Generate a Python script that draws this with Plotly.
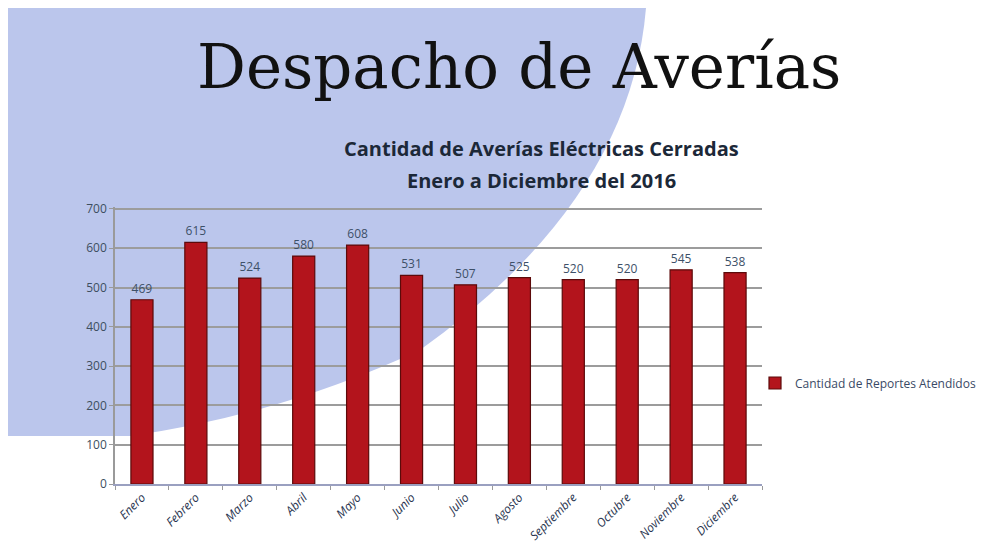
import plotly.graph_objects as go

meses = ["Enero", "Febrero", "Marzo", "Abril", "Mayo", "Junio", "Julio",
         "Agosto", "Septiembre", "Octubre", "Noviembre", "Diciembre"]
reportes = [469, 615, 524, 580, 608, 531, 507, 525, 520, 520, 545, 538]
y_ticks = [0, 100, 200, 300, 400, 500, 600, 700]
y_max = 705
serie = "Cantidad de Reportes Atendidos"

OFF = 8  # default page body margin
W, H = 995 - 2 * OFF, 558 - 2 * OFF
# plot area in window pixels
L, R, T, B = 115, 762, 207, 484


def px(x, y):
    return (x - L) / (R - L), (B - y) / (B - T)


def pt(x, y):
    a, b = px(x, y)
    return f"{a:.4f},{b:.4f}"


bg_path = (f"M {pt(8, 8)} L {pt(646, 8)} "
           f"Q {pt(630, 200)} {pt(420, 350)} "
           f"Q {pt(280, 415)} {pt(130, 436)} "
           f"L {pt(8, 436)} Z")

fig = go.Figure()
fig.add_trace(go.Bar(
    x=meses, y=reportes, name=serie,
    marker=dict(color="#b3141c", line=dict(color="#5c0a0a", width=1.2)),
    text=reportes,
    textposition="outside", cliponaxis=False,
    textfont=dict(family="Open Sans", size=12, color="#3d5068"),
    width=0.41, showlegend=True,
))

fig.update_layout(
    width=W, height=H,
    margin=dict(l=L - OFF, r=(995 - OFF) - R, t=T - OFF, b=(558 - OFF) - B,
                autoexpand=False),
    paper_bgcolor="white", plot_bgcolor="rgba(0,0,0,0)",
    shapes=[dict(type="path", path=bg_path, xref="paper", yref="paper",
                 fillcolor="#bbc6ec", line=dict(width=0), layer="below")],
    showlegend=True,
    legend=dict(x=px(755, 0)[0], y=px(0, 383)[1], xanchor="left", yanchor="middle",
                font=dict(family="Open Sans", size=12, color="#3a4a66"),
                bgcolor="rgba(0,0,0,0)", itemwidth=30),
    annotations=[
        dict(text="Despacho de Averías", xref="paper", yref="paper",
             x=px(519, 0)[0], y=px(0, 66)[1], xanchor="center", yanchor="middle",
             showarrow=False, font=dict(family="DejaVu Serif", size=61, color="#111111")),
        dict(text="<b>Cantidad de Averías Eléctricas Cerradas</b>",
             xref="paper", yref="paper",
             x=px(541, 0)[0], y=px(0, 148)[1], xanchor="center", yanchor="middle",
             showarrow=False,
             font=dict(family="Open Sans", size=20, color="#1c2838")),
        dict(text="<b>Enero a Diciembre del 2016</b>",
             xref="paper", yref="paper",
             x=px(541, 0)[0], y=px(0, 180)[1], xanchor="center", yanchor="middle",
             showarrow=False,
             font=dict(family="Open Sans", size=20, color="#1c2838")),
    ],
    bargap=0.59,
)

fig.update_yaxes(
    range=[0, y_max], tickvals=y_ticks, showgrid=True,
    gridcolor="#9c9c9c", gridwidth=1.6,
    showline=True, linecolor="#9a9a9a", linewidth=1.5,
    ticks="outside", ticklen=4, tickcolor="#9a9a9a",
    tickfont=dict(family="Open Sans", size=12, color="#3d4e60"),
    zeroline=False, automargin=False,
)
fig.update_xaxes(
    showline=True, linecolor="#9aa0c0", linewidth=1.5,
    ticks="outside", tickson="boundaries", ticklen=4, tickcolor="#9a9a9a",
    tickangle=-45, automargin=False,
    tickfont=dict(family="Open Sans", size=12, color="#2a3550", style="italic"),
)

fig.write_html("out.html")
